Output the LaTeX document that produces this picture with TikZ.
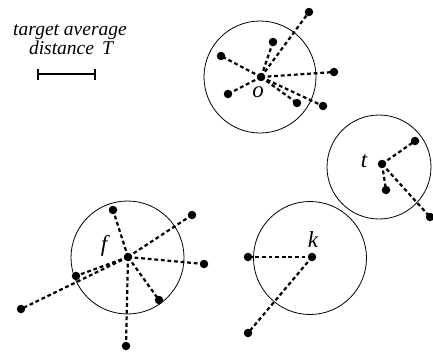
\documentclass[tikz,border=0pt]{standalone}
\usepackage{fontspec}
\setmainfont{Liberation Serif}
\begin{document}
\begin{tikzpicture}[x=1pt,y=-1pt,
  ring/.style={draw,line width=0.8pt},
  pt/.style={circle,fill=black,inner sep=0pt,minimum size=8.5pt},
  link/.style={line width=2.2pt,dash pattern=on 3.8pt off 2.8pt},
  lbl/.style={font=\fontsize{23}{25}\selectfont\itshape,inner sep=0pt},
  legtext/.style={font=\fontsize{19.5}{20}\selectfont\itshape,inner sep=0pt,anchor=base}]
\useasboundingbox (0,0) rectangle (433,351);

% legend
\node[legtext] (leg1) at (70,35) {target average};
\node[legtext] (leg2) at (71,54) {distance \,T};
\coordinate (ba) at (38,74);
\coordinate (bb) at (95,74);
\draw[line width=2.2pt] (ba) -- (bb);
\draw[line width=2.2pt] ([yshift=-5.5pt]ba) -- ([yshift=5.5pt]ba);
\draw[line width=2.2pt] ([yshift=-5.5pt]bb) -- ([yshift=5.5pt]bb);

% circles
\draw[ring] (260,77) circle (56);
\draw[ring] (379,167) circle (52);
\draw[ring] (127.5,257.5) circle (56.5);
\draw[ring] (310,258) circle (56.5);

% cluster o
\node[pt] (o) at (261,77) {};
\node[lbl] (ol) at (258,92) {o};
\node[pt] (o1) at (309,12) {};
\node[pt] (o2) at (273,42) {};
\node[pt] (o3) at (221,56) {};
\node[pt] (o4) at (334,72) {};
\node[pt] (o5) at (228,94) {};
\node[pt] (o6) at (297,103) {};
\node[pt] (o7) at (323,106) {};
\foreach \p in {o1,o2,o3,o4,o5,o6,o7} \draw[link] (o.center) -- (\p.center);

% cluster t
\node[pt] (t) at (382,164) {};
\node[lbl] (tl) at (364,161) {t};
\node[pt] (t1) at (415,141) {};
\node[pt] (t2) at (386,190) {};
\node[pt] (t3) at (430,217) {};
\foreach \p in {t1,t2,t3} \draw[link] (t.center) -- (\p.center);

% cluster f
\node[pt] (f) at (128,257) {};
\node[lbl] (fl) at (104,246) {f};
\node[pt] (f1) at (113,210) {};
\node[pt] (f2) at (192,215) {};
\node[pt] (f3) at (204,264) {};
\node[pt] (f4) at (159,300) {};
\node[pt] (f5) at (126,346) {};
\node[pt] (f6) at (21,309) {};
\node[pt] (f7) at (76,276) {};
\foreach \p in {f1,f2,f3,f4,f5,f6,f7} \draw[link] (f.center) -- (\p.center);

% cluster k
\node[pt] (k) at (312,257) {};
\node[lbl] (kl) at (313,240) {k};
\node[pt] (k1) at (248,257) {};
\node[pt] (k2) at (248,333) {};
\foreach \p in {k1,k2} \draw[link] (k.center) -- (\p.center);
\end{tikzpicture}
\end{document}
